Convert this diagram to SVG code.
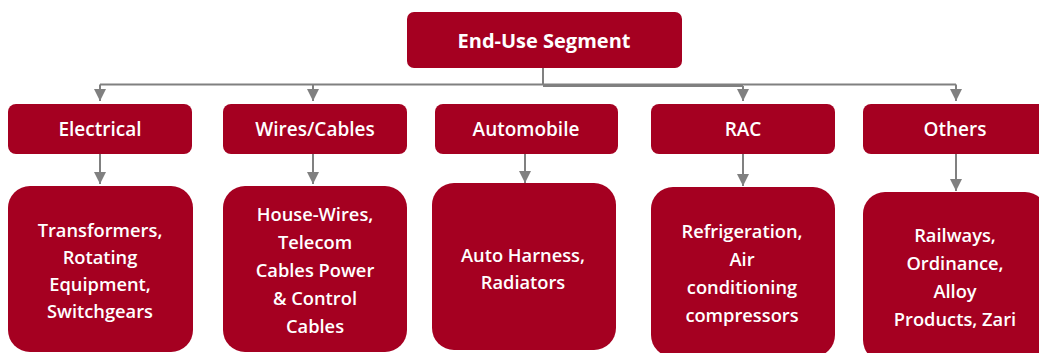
<svg xmlns="http://www.w3.org/2000/svg" width="1039" height="353" viewBox="0 0 1039 353">
<style>
.box{fill:#A50021;}
.t{font-family:"Open Sans","Noto Sans","Liberation Sans",sans-serif;font-size:19px;font-weight:600;fill:#ffffff;text-anchor:middle;}
.d{font-size:18.3px;}
.h{font-weight:700;font-size:20px;}
.c{stroke:#808080;stroke-width:2;fill:none;}
</style>
<defs>
<marker id="ah" viewBox="0 0 12 12" refX="12" refY="6" markerWidth="12" markerHeight="13" markerUnits="userSpaceOnUse" orient="auto">
<path d="M0,0 L12,6 L0,12 z" fill="#808080"/>
</marker>
</defs>
<rect width="1039" height="353" fill="#ffffff"/>
<g id="connectors">
<path class="c" d="M543,68 V85"/>
<path class="c" d="M100,84.5 H956"/>
<path class="c" d="M543,86 H743"/>
<path class="c" d="M100,84.5 V101" marker-end="url(#ah)"/>
<path class="c" d="M313,84.5 V101" marker-end="url(#ah)"/>
<path class="c" d="M743,86 V101" marker-end="url(#ah)"/>
<path class="c" d="M956,84.5 V101" marker-end="url(#ah)"/>
<path class="c" d="M100,154 V184" marker-end="url(#ah)"/>
<path class="c" d="M313,154 V184" marker-end="url(#ah)"/>
<path class="c" d="M525,154 V183" marker-end="url(#ah)"/>
<path class="c" d="M743,154 V186" marker-end="url(#ah)"/>
<path class="c" d="M956,154 V191" marker-end="url(#ah)"/>
</g>
<g id="root">
<rect class="box" x="407" y="12" width="275" height="56" rx="7"/>
<text class="t h" x="544" y="48">End-Use Segment</text>
</g>
<g id="electrical">
<rect class="box" x="8" y="104" width="184" height="50" rx="8"/>
<text class="t" x="100" y="136">Electrical</text>
</g>
<g id="wires">
<rect class="box" x="223" y="104" width="184" height="50" rx="8"/>
<text class="t" x="315" y="136">Wires/Cables</text>
</g>
<g id="automobile">
<rect class="box" x="435" y="104" width="183" height="50" rx="8"/>
<text class="t" x="526" y="136">Automobile</text>
</g>
<g id="rac">
<rect class="box" x="651" y="104" width="184" height="50" rx="8"/>
<text class="t" x="743" y="136">RAC</text>
</g>
<g id="others">
<rect class="box" x="863" y="104" width="184" height="50" rx="8"/>
<text class="t" x="955" y="136">Others</text>
</g>
<g id="electrical-detail">
<rect class="box" x="8" y="186" width="185" height="166" rx="22"/>
<text class="t d" x="100" y="237">Transformers,</text>
<text class="t d" x="100" y="264">Rotating</text>
<text class="t d" x="100" y="291">Equipment,</text>
<text class="t d" x="100" y="318">Switchgears</text>
</g>
<g id="wires-detail">
<rect class="box" x="223" y="186" width="184" height="166" rx="22"/>
<text class="t d" x="315" y="221">House-Wires,</text>
<text class="t d" x="315" y="249">Telecom</text>
<text class="t d" x="315" y="277">Cables Power</text>
<text class="t d" x="315" y="305">&amp; Control</text>
<text class="t d" x="315" y="333">Cables</text>
</g>
<g id="automobile-detail">
<rect class="box" x="432" y="183" width="184" height="167" rx="22"/>
<text class="t d" x="523" y="262">Auto Harness,</text>
<text class="t d" x="523" y="289">Radiators</text>
</g>
<g id="rac-detail">
<rect class="box" x="651" y="187" width="184" height="170" rx="22"/>
<text class="t d" x="742" y="238">Refrigeration,</text>
<text class="t d" x="742" y="266">Air</text>
<text class="t d" x="742" y="294">conditioning</text>
<text class="t d" x="742" y="322">compressors</text>
</g>
<g id="others-detail">
<rect class="box" x="863" y="192" width="184" height="170" rx="22"/>
<text class="t d" x="955" y="242">Railways,</text>
<text class="t d" x="955" y="270">Ordinance,</text>
<text class="t d" x="955" y="298">Alloy</text>
<text class="t d" x="955" y="326">Products, Zari</text>
</g>
</svg>
